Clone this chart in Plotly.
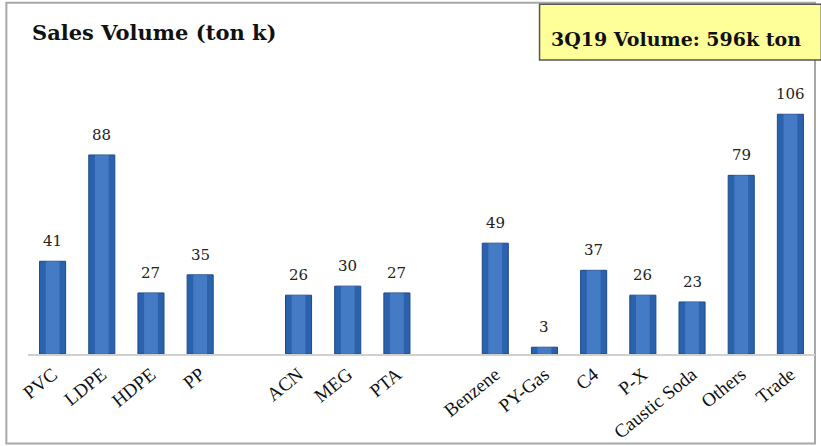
import plotly.graph_objects as go

group1 = ["PVC", "LDPE", "HDPE", "PP"]
group2 = ["ACN", "MEG", "PTA"]
group3 = ["Benzene", "PY-Gas", "C4", "P-X", "Caustic Soda", "Others", "Trade"]
values1 = [41, 88, 27, 35]
values2 = [26, 30, 27]
values3 = [49, 3, 37, 26, 23, 79, 106]
title_text = "Sales Volume (ton k)"
box_text = "3Q19 Volume: 596k ton"

categories = group1 + group2 + group3
values = values1 + values2 + values3
# category order with blank spacer slots between groups
cat_order = group1 + [" "] + group2 + ["  "] + group3

fig = go.Figure()
fig.add_trace(go.Bar(
    x=categories, y=values, width=0.53,
    marker=dict(color="#2a62ad", line=dict(color="#1d4a88", width=1)),
    hoverinfo="x+y", showlegend=False,
))
# lighter centre highlight to mimic the cylindrical shading
fig.add_trace(go.Bar(
    x=categories, y=values, width=0.28,
    marker=dict(color="rgba(100,155,225,0.45)", line=dict(width=0)),
    hoverinfo="skip", showlegend=False,
))

fig.update_layout(
    width=821, height=446,
    margin=dict(l=28, r=6, t=60, b=92),
    paper_bgcolor="white", plot_bgcolor="white",
    barmode="overlay",
    xaxis=dict(categoryorder="array", categoryarray=cat_order, automargin=False,
               range=[-0.5, 15.5], tickangle=-39, showgrid=False,
               showline=True, linecolor="#d0d0d0", linewidth=2,
               ticks="", tickfont=dict(family="Liberation Serif", size=19, color="#111")),
    yaxis=dict(range=[0, 130], visible=False, showgrid=False, automargin=False),
    shapes=[
        dict(type="rect", xref="x domain", yref="y domain",
             x0=-0.0275, x1=1.0, y0=-0.3045, y1=1.195,
             line=dict(color="#a8a8a8", width=2), layer="below"),
        dict(type="rect", xref="x domain", yref="y domain",
             x0=0.650, x1=1.008, y0=1.0, y1=1.19,
             line=dict(color="#555", width=1.5), fillcolor="#ffff99", layer="above"),
    ],
)

for c, v in zip(categories, values):
    fig.add_annotation(x=c, y=v, text=str(v), showarrow=False,
                       yanchor="bottom", yshift=9,
                       font=dict(family="DejaVu Serif", size=15, color="#222"))

fig.add_annotation(xref="x domain", yref="y domain", x=0.002, y=1.092, xanchor="left",
                   yanchor="middle", showarrow=False, text="<b>" + title_text + "</b>",
                   font=dict(family="DejaVu Serif", size=21, color="#111"))
fig.add_annotation(xref="x domain", yref="y domain", x=0.823, y=1.072, xanchor="center",
                   yanchor="middle", showarrow=False, text="<b>" + box_text + "</b>",
                   font=dict(family="DejaVu Serif", size=19, color="#111"))

fig.write_html("out.html")
